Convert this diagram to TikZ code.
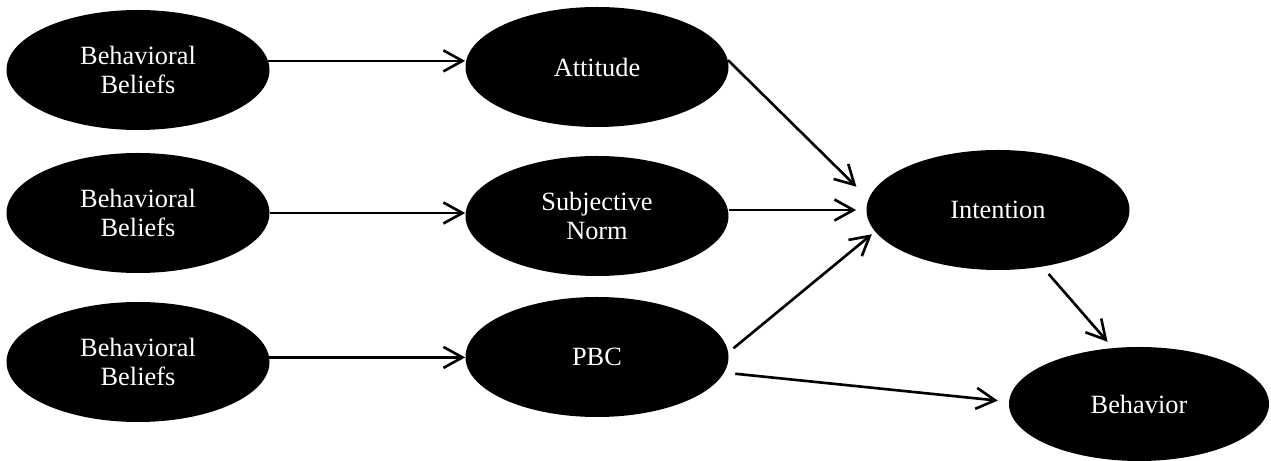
\documentclass[tikz,border=0pt]{standalone}
\usepackage{fontspec}
\setmainfont{Liberation Serif}
\usepackage{tikz}
\usetikzlibrary{shapes.geometric, arrows.meta, positioning, calc}

\begin{document}
\begin{tikzpicture}[
  latent/.style={ellipse, fill=black, text=white, inner sep=0pt,
                 minimum width=5.26cm, minimum height=2.4cm,
                 font=\fontsize{15}{16.5}\selectfont, align=center},
  arr/.style={-{Straight Barb[length=0.38cm, width=0.42cm]}, line width=1.5pt},
]
\useasboundingbox (0,0) rectangle (25.42,-9.22);

% BELIEFS
\node[latent] (bb1) at (2.76,-1.40) {Behavioral\\Beliefs};
\node[latent] (bb2) at (2.76,-4.26) {Behavioral\\Beliefs};
\node[latent] (bb3) at (2.76,-7.24) {Behavioral\\Beliefs};

% DETERMINANTS
\node[latent] (att) at (11.94,-1.34) {Attitude};
\node[latent] (sn)  at (11.94,-4.32) {Subjective\\Norm};
\node[latent] (pbc) at (11.94,-7.14) {PBC};

% OUTCOMES
\node[latent] (int) at (19.96,-4.20) {Intention};
\node[latent, minimum width=5.2cm, minimum height=2.28cm] (beh) at (22.78,-8.08) {Behavior};

\draw[arr] (bb1.4) -- (bb1.4 -| att.west);
\draw[arr] (bb2.east) -- (bb2.east -| sn.west);
\draw[arr] (bb3.2) -- (bb3.2 -| pbc.west);
\draw[arr, shorten >=0.34cm] (att.3) -- (int.175);
\draw[arr, shorten >=0.2cm] (int.west -| sn.east) -- (int.west);
\draw[arr, shorten <=0.13cm, shorten >=0.08cm] (pbc.2) -- (int.190);
\draw[arr, shorten <=0.19cm, shorten >=0.16cm] (int.-52) -- (beh.115);
\draw[arr, shorten <=0.22cm, shorten >=0.22cm] (pbc.-7) -- (beh.179);
\end{tikzpicture}
\end{document}
